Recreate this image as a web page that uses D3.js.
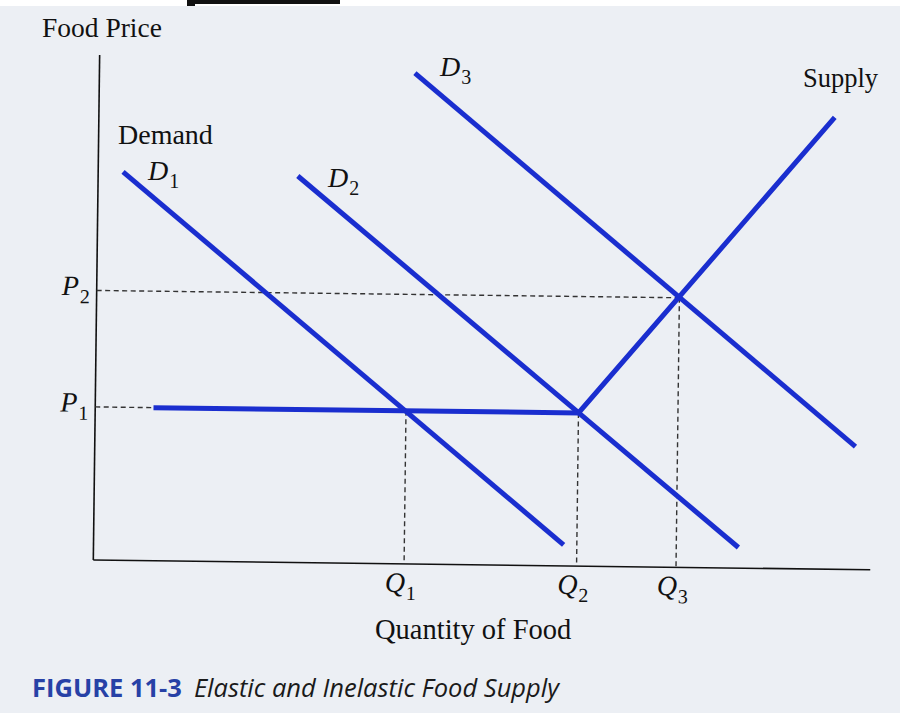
<!DOCTYPE html>
<html>
<head>
<meta charset="utf-8">
<script src="https://cdn.jsdelivr.net/npm/d3@7"></script>
<style>
  body { margin: 0; background: #ffffff; }
  svg { display: block; }
</style>
</head>
<body>
<script>
// demand curves (quantity, price) in arbitrary units 0..10
var demandNames = ["1", "2", "3"];
var demandStart = [[0.32, 7.74], [2.57, 7.70], [4.06, 9.78]];
var demandEnd = [[6.05, 0.42], [8.30, 0.41], [9.79, 2.45]];
// supply: flat, then rising
var supplyPoints = [[0.75, 3.05], [6.22, 3.05], [9.47, 9.0]];
// equilibrium levels
var priceSubs = ["1", "2"];
var priceValues = [3.05, 5.37];
var quantitySubs = ["1", "2", "3"];
var quantityValues = [4.0, 6.22, 7.5];
var quantityPrice = [3.05, 3.05, 5.37];

var W = 900, H = 713;
var blue = "#1a2ecf";
var serif = "'Liberation Serif', 'Times New Roman', serif";

var svg = d3.select("body").append("svg")
    .attr("width", W)
    .attr("height", H);

// paper
svg.append("rect").attr("width", W).attr("height", H).attr("fill", "#ffffff");
svg.append("rect").attr("y", 6).attr("width", W).attr("height", H - 6).attr("fill", "#eceff4");
// bit of the heading cut off at the top
svg.append("rect").attr("x", 187).attr("y", 0).attr("width", 153).attr("height", 4).attr("fill", "#111");
svg.append("rect").attr("x", 187).attr("y", 0).attr("width", 8).attr("height", 6).attr("fill", "#111");

// the scan is turned a little clockwise
var g = svg.append("g")
    .attr("transform", "translate(93.3,560) rotate(0.72)");

var x = d3.scaleLinear().domain([0, 10]).range([0, 777]);
var y = d3.scaleLinear().domain([0, 10]).range([0, -502]);

// axes
g.append("line")
    .attr("x1", x(0)).attr("y1", y(0))
    .attr("x2", x(0)).attr("y2", y(10.06))
    .attr("stroke", "#111").attr("stroke-width", 1.6);
g.append("line")
    .attr("x1", x(0)).attr("y1", y(0))
    .attr("x2", x(10)).attr("y2", y(0))
    .attr("stroke", "#111").attr("stroke-width", 1.6);

// dashed guides
var dash = "5,3.5";
g.selectAll(".hguide")
    .data(priceValues)
    .enter().append("line")
    .attr("x1", x(0))
    .attr("x2", (d, i) => i == 0 ? x(supplyPoints[0][0]) : x(quantityValues[2]))
    .attr("y1", (d) => y(d))
    .attr("y2", (d) => y(d))
    .attr("stroke", "#333").attr("stroke-width", 1.4)
    .attr("stroke-dasharray", dash);

g.selectAll(".vguide")
    .data(quantityValues)
    .enter().append("line")
    .attr("x1", (d) => x(d))
    .attr("x2", (d) => x(d))
    .attr("y1", (d, i) => y(quantityPrice[i]))
    .attr("y2", y(0))
    .attr("stroke", "#333").attr("stroke-width", 1.4)
    .attr("stroke-dasharray", dash);

// demand lines
g.selectAll(".demand")
    .data(demandNames)
    .enter().append("line")
    .attr("x1", (d, i) => x(demandStart[i][0]))
    .attr("y1", (d, i) => y(demandStart[i][1]))
    .attr("x2", (d, i) => x(demandEnd[i][0]))
    .attr("y2", (d, i) => y(demandEnd[i][1]))
    .attr("stroke", blue).attr("stroke-width", 5);

// supply line
var line = d3.line().x((d) => x(d[0])).y((d) => y(d[1]));
g.append("path")
    .attr("d", line(supplyPoints))
    .attr("fill", "none")
    .attr("stroke", blue).attr("stroke-width", 5)
    .attr("stroke-linejoin", "miter");

// P and Q labels
function subLabel(sel, letter, sub) {
    sel.append("tspan").attr("font-style", "italic").text(letter);
    sel.append("tspan").attr("font-size", 20).attr("dy", 8).attr("dx", 1).text(sub);
}

priceValues.forEach((v, i) => {
    var t = g.append("text")
        .attr("x", x(0) - 35).attr("y", y(v) + 5)
        .attr("font-family", serif).attr("font-size", 28).attr("fill", "#111");
    subLabel(t, "P", priceSubs[i]);
});

quantityValues.forEach((v, i) => {
    var t = g.append("text")
        .attr("x", x(v) - 19).attr("y", y(0) + 28)
        .attr("font-family", serif).attr("font-size", 28).attr("fill", "#111");
    subLabel(t, "Q", quantitySubs[i]);
});

// demand labels
var dLabelPos = [[148, 180], [328, 187], [440, 76]];
demandNames.forEach((d, i) => {
    var t = svg.append("text")
        .attr("x", dLabelPos[i][0]).attr("y", dLabelPos[i][1])
        .attr("font-family", serif).attr("font-size", 28).attr("fill", "#111");
    subLabel(t, "D", d);
});

// titles
svg.append("text").attr("x", 42).attr("y", 37)
    .attr("font-family", serif).attr("font-size", 27.5).attr("fill", "#111")
    .text("Food Price");
svg.append("text").attr("x", 118).attr("y", 144)
    .attr("font-family", serif).attr("font-size", 28).attr("fill", "#111")
    .text("Demand");
svg.append("text").attr("x", 803).attr("y", 87)
    .attr("font-family", serif).attr("font-size", 26.5).attr("fill", "#111")
    .text("Supply");
svg.append("text").attr("x", 375).attr("y", 639)
    .attr("font-family", serif).attr("font-size", 28.5).attr("fill", "#111")
    .text("Quantity of Food");

// caption
var cap = svg.append("text").attr("x", 32).attr("y", 697)
    .attr("font-family", "'Open Sans', 'Noto Sans', sans-serif").attr("font-size", 25.5);
cap.append("tspan").attr("font-weight", "bold").attr("fill", "#2741a6").text("FIGURE 11-3");
cap.append("tspan").attr("dx", 12).attr("font-style", "italic").attr("fill", "#1a1a1a")
    .text("Elastic and Inelastic Food Supply");
</script>
</body>
</html>
